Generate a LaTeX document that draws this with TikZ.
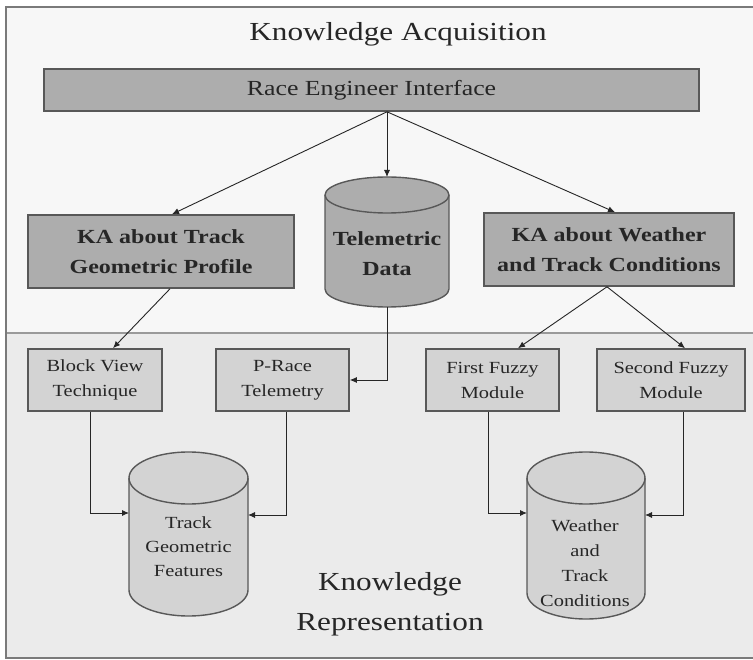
\documentclass[tikz,border=0pt]{standalone}
\usepackage{fontspec}
\setmainfont{Liberation Serif}[FakeStretch=1.2]
\usetikzlibrary{arrows.meta}

\definecolor{inkgrey}{HTML}{262626}
\definecolor{edgegrey}{HTML}{585858}
\definecolor{upperbg}{HTML}{F7F7F7}
\definecolor{lowerbg}{HTML}{EBEBEB}
\definecolor{darkfill}{HTML}{ADADAD}
\definecolor{lightfill}{HTML}{D3D3D3}
\definecolor{framegrey}{HTML}{7A7A7A}
\definecolor{sepgrey}{HTML}{9A9A9A}

% upright drum: centre x, top, bottom, x radius, y radius, fill colour
\newcommand\drumbody[6]{%
  \path[fill=#6, draw=edgegrey, line width=1.4pt]
    (#1-#4, #2+#5) -- (#1-#4, #3-#5)
    arc[start angle=180, end angle=360, x radius=#4pt, y radius=#5pt]
    -- (#1+#4, #2+#5)
    arc[start angle=0, end angle=180, x radius=#4pt, y radius=#5pt] -- cycle;
  \draw[edgegrey, line width=1.4pt] (#1-#4, #2+#5)
    arc[start angle=180, end angle=360, x radius=#4pt, y radius=#5pt];
}

\tikzset{
  box/.style={draw=edgegrey, line width=1.6pt, inner sep=0pt, text=inkgrey, align=center},
  bigbox/.style={box, fill=darkfill, font=\fontsize{20}{30}\selectfont\bfseries},
  smallbox/.style={box, fill=lightfill, font=\fontsize{17}{25}\selectfont},
  drumframe/.style={inner sep=0pt, outer sep=0pt},
  drumtext/.style={text=inkgrey, align=center, inner sep=0pt},
  heading/.style={text=inkgrey, align=center, inner sep=0pt},
  arr/.style={draw=inkgrey, line width=0.9pt, -{Latex[length=7pt,width=6pt]}},
}

\begin{document}
\begin{tikzpicture}[x=1pt, y=-1pt]
  \clip (0,0) rectangle (753,660);

  % two panels
  \fill[white] (0,0) rectangle (753,660);
  \fill[upperbg] (6,7) rectangle (760,333);
  \fill[lowerbg] (6,333) rectangle (760,658);
  \draw[sepgrey, line width=2pt] (6,333) -- (760,333);
  \draw[framegrey, line width=2pt] (6,7) rectangle (760,658);

  % headings
  \node[heading, font=\fontsize{26}{30}\selectfont] (ka) at (398,34) {Knowledge Acquisition};
  \node[heading, font=\fontsize{26}{40}\selectfont] (kr) at (390,604) {Knowledge\\Representation};

  % acquisition layer
  \node[box, fill=darkfill, font=\fontsize{21.5}{26}\selectfont,
        minimum width=655pt, minimum height=42pt] (rei) at (371.5,90) {Race Engineer Interface};
  \node[bigbox, minimum width=266pt, minimum height=73pt] (kat) at (161,251.5)
    {KA about Track\\Geometric Profile};
  \node[bigbox, minimum width=250pt, minimum height=73pt] (kaw) at (609,249.5)
    {KA about Weather\\and Track Conditions};

  \drumbody{387}{177}{307}{62}{18}{darkfill}
  \node[drumframe, minimum width=124pt, minimum height=130pt] (tel) at (387,242) {};
  \node[drumtext, font=\fontsize{20}{30}\selectfont\bfseries] (teltext) at (387,254)
    {Telemetric\\Data};

  % representation layer
  \node[smallbox, minimum width=134pt, minimum height=62pt] (bvt) at (95,380)
    {Block View\\Technique};
  \node[smallbox, minimum width=133pt, minimum height=62pt] (prt) at (282.5,380)
    {P-Race\\Telemetry};
  \node[smallbox, minimum width=133pt, minimum height=62pt] (ffm) at (492.5,380)
    {First Fuzzy\\Module};
  \node[smallbox, minimum width=148pt, minimum height=62pt] (sfm) at (671,380)
    {Second Fuzzy\\Module};

  \drumbody{188.5}{452}{616}{59.5}{26}{lightfill}
  \node[drumframe, minimum width=119pt, minimum height=164pt] (tgf) at (188.5,534) {};
  \node[drumtext, font=\fontsize{17}{24}\selectfont] (tgftext) at (188.5,547)
    {Track\\Geometric\\Features};

  \drumbody{586}{452}{619}{59}{26}{lightfill}
  \node[drumframe, minimum width=118pt, minimum height=167pt] (wtc) at (586,535.5) {};
  \node[drumtext, font=\fontsize{17}{25}\selectfont] (wtctext) at (585,563)
    {Weather\\and\\Track\\Conditions};

  % connectors
  \coordinate (hub) at (rei.south -| tel.north);
  \draw[arr] (hub) -- (kat.north -| 172,0);
  \draw[arr] (hub) -- (tel.north);
  \draw[arr] (hub) -- (kaw.north -| 615,0);
  \draw[arr] (kat.south -| 170,0) -- (bvt.north -| 113,0);
  \draw[arr] (kaw.south -| 607,0) -- (ffm.north -| 518,0);
  \draw[arr] (kaw.south -| 607,0) -- (sfm.north -| 685,0);
  \draw[arr] (tel.south) |- (prt.east);
  \draw[arr] (bvt.south -| 90,0) |- (tgf.west |- 0,513);
  \draw[arr] (prt.south -| 286,0) |- (tgf.east |- 0,515);
  \draw[arr] (ffm.south -| 488,0) |- (wtc.west |- 0,513);
  \draw[arr] (sfm.south -| 683,0) |- (wtc.east |- 0,515);
\end{tikzpicture}
\end{document}
